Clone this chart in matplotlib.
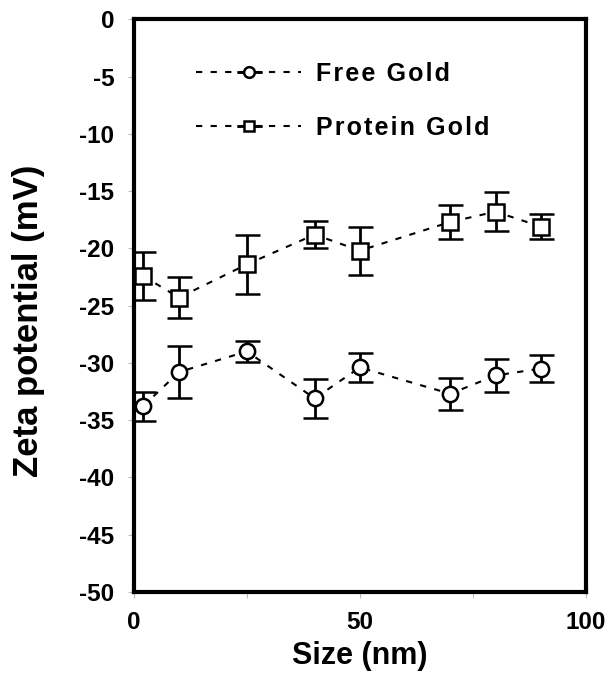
import matplotlib
matplotlib.use("Agg")
import matplotlib.pyplot as plt
from matplotlib.legend_handler import HandlerErrorbar

size_nm = [2, 10, 25, 40, 50, 70, 80, 90]
free_gold = [-33.8, -30.8, -29.0, -33.1, -30.4, -32.7, -31.1, -30.5]
free_err = [1.3, 2.3, 0.9, 1.7, 1.3, 1.4, 1.4, 1.2]
protein_gold = [-22.4, -24.3, -21.4, -18.8, -20.2, -17.7, -16.8, -18.1]
protein_err = [2.1, 1.8, 2.6, 1.2, 2.1, 1.5, 1.7, 1.1]
y_ticks = list(range(-50, 1, 5))
x_ticks = [0, 25, 50, 75, 100]
x_ticklabels = ['0', '', '50', '', '100']
series_names = ['Free Gold', 'Protein Gold']

plt.rcParams['font.family'] = ['Liberation Sans', 'DejaVu Sans']

fig = plt.figure(figsize=(6.11, 6.77), dpi=100)
ax = fig.add_axes([0.219, 0.1256, 0.74, 0.846])

common = dict(color='black', linestyle=(0, (3, 4)), linewidth=1.5,
              markersize=11, markerfacecolor='white', markeredgecolor='black',
              markeredgewidth=1.8, ecolor='black', elinewidth=2,
              capsize=9, capthick=2)
ax.errorbar(size_nm, free_gold, yerr=free_err, marker='o', label=series_names[0], **common)
ax.errorbar(size_nm, protein_gold, yerr=protein_err, marker='s', label=series_names[1], **common)

ax.set_xlim(0, 100)
ax.set_ylim(-50, 0)
ax.set_xticks(x_ticks)
ax.set_xticklabels(x_ticklabels)
ax.set_yticks(y_ticks)
ax.set_yticklabels([str(v) for v in y_ticks])
for s in ax.spines.values():
    s.set_linewidth(3)
ax.tick_params(axis='both', length=4, width=0.8, color='#bbbbbb',
               labelsize=17.5, pad=10)
for lab in ax.get_xticklabels() + ax.get_yticklabels():
    lab.set_fontweight('bold')

ax.set_xlabel('Size (nm)', fontsize=22, fontweight='bold', labelpad=5)
ax.set_ylabel('Zeta potential (mV)', fontsize=25, fontweight='bold')
ax.yaxis.set_label_coords(-0.197, 0.473)

spaced = ['\u200a'.join(list(n)) for n in series_names]
handles, _ = ax.get_legend_handles_labels()
leg = ax.legend(handles, spaced, loc='upper left', bbox_to_anchor=(0.088, 0.965),
                frameon=False, fontsize=18, handlelength=4.2, handletextpad=0.6,
                labelspacing=1.2, markerscale=0.7,
                handler_map={type(ax.containers[0]): HandlerErrorbar(xerr_size=0, yerr_size=0)})
for t in leg.get_texts():
    t.set_fontweight('bold')

fig.savefig('out.png', dpi=100)
